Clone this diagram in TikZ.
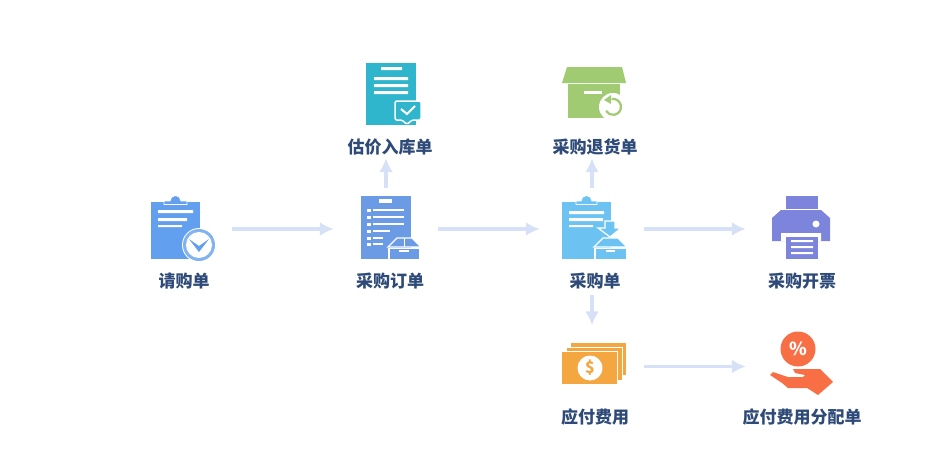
\documentclass[tikz,border=0pt]{standalone}
\usepackage{fontspec}
\usepackage{tikz}
\usetikzlibrary{arrows.meta}
\setmainfont{Noto Sans CJK SC}
\definecolor{flowblue}{HTML}{D6E0F6}
\definecolor{textblue}{HTML}{2E4A78}
\definecolor{reqblue}{HTML}{629FEE}
\definecolor{ordblue}{HTML}{6C9BE6}
\definecolor{rkblue}{HTML}{6CC3F2}
\definecolor{gjteal}{HTML}{2FB5CC}
\definecolor{thgreen}{HTML}{A0CB72}
\definecolor{kpviolet}{HTML}{7C84DC}
\definecolor{fyorange}{HTML}{F4A640}
\definecolor{fpred}{HTML}{F96F45}
\tikzset{
  spot/.style={minimum width=104pt,minimum height=82pt,inner sep=0pt},
  nametag/.style={font=\fontsize{17}{17}\selectfont\bfseries,text=textblue,minimum height=28pt,inner sep=0pt},
  flow/.style={draw=flowblue,line width=3.5pt,-{Latex[length=14pt,width=14pt]}},
}
\begin{document}
\begin{tikzpicture}[x=1pt,y=-1pt]
  \useasboundingbox (0,0) rectangle (948,474);
  % spots the arrows run between
  \node[spot] (qg) at (180,229) {};
  \node[spot] (cg) at (386,229) {};
  \node[spot] (rk) at (592,229) {};
  \node[spot] (kp) at (798,229) {};
  \node[spot] (gj) at (386,117) {};
  \node[spot] (th) at (592,117) {};
  \node[spot] (fy) at (592,366.5) {};
  \node[spot] (fp) at (798,366.5) {};
  \node[nametag] (qgt) at (184,281) {请购单};
  \node[nametag] (cgt) at (390,281) {采购订单};
  \node[nametag] (rkt) at (595,281) {采购单};
  \node[nametag] (kpt) at (802,281) {采购开票};
  \node[nametag] (gjt) at (390,147) {估价入库单};
  \node[nametag] (tht) at (595,147) {采购退货单};
  \node[nametag] (fyt) at (595,417) {应付费用};
  \node[nametag] (fpt) at (802,417) {应付费用分配单};
  \draw[flow] (qg) to (cg);
  \draw[flow] (cg) to (rk);
  \draw[flow] (rk) to (kp);
  \draw[flow] (fy) to (fp);
  \draw[flow] (cg.north) to (gj.south);
  \draw[flow] (rk.north) to (th.south);
  \draw[flow] (rk |- rkt.south) to (fy.north);
  % request form
  \fill[reqblue] (151,202) rectangle (200,259);
  \fill[reqblue,draw=white,line width=.8pt] (164,204.5) -- (164,201) -- (170,201) arc (180:360:5.5) -- (187,201) -- (187,204.5) -- cycle;
  \fill[white] (158,210) rectangle (193,213) (158,218) rectangle (187,221) (158,225) rectangle (182,227);
  \fill[white] (199,245) circle (17);
  \fill[reqblue!80] (199,245) circle (16);
  \fill[white] (199,245) circle (13);
  \fill[reqblue] (189,239) -- (199,246) -- (209,239) -- (199,252) -- cycle;
  % purchase order
  \fill[ordblue] (361,196) rectangle (411,259);
  \fill[white] (379,199) rectangle (392,203);
  \foreach \y/\e in {210/404,217/404,224/404,231/390,238/383,244/383} {
    \fill[white] (367,\y-1.5) rectangle (371,\y+1.5);
    \fill[white] (373,\y-1) rectangle (\e,\y+1);
  }
  \fill[ordblue,draw=white,line width=1.2pt] (388,247) -- (397,238) -- (412,238) -- (421,247) -- cycle;
  \fill[ordblue,draw=white,line width=1.2pt] (389,248.5) rectangle (420,259.5);
  \draw[white,line width=1pt] (404,238) -- (404,247);
  \fill[white] (399,250) rectangle (409,252);
  % estimate form
  \fill[gjteal] (366,63) rectangle (416,125);
  \fill[white] (381,67) rectangle (402,70) (374,77) rectangle (408,80) (374,84) rectangle (408,87) (374,91) rectangle (408,94);
  \fill[gjteal,draw=white,line width=1.5pt,rounded corners=1.5pt] (395,101) -- (421,101) -- (421,120) -- (412,120) -- (407,124.5) -- (402,120) -- (395,120) -- cycle;
  \draw[white,line width=2pt] (401,109) -- (407,114) -- (415,106);
  % return box
  \fill[thgreen] (567,67) -- (622,67) -- (626,83) -- (562,83) -- cycle;
  \fill[thgreen] (568,84) rectangle (620,118);
  \fill[white] (584,91) rectangle (602,94);
  \fill[white] (613,107) circle (14);
  \draw[thgreen,line width=2.2pt] (611.6,99) arc (-100:150:8);
  \fill[thgreen] (604,100) -- (611,95) -- (611,104) -- cycle;
  % receipt
  \fill[rkblue] (562,202) rectangle (611,259);
  \fill[rkblue,draw=white,line width=.8pt] (576,204.5) -- (576,201) -- (581,201) arc (180:360:5.5) -- (597,201) -- (597,204.5) -- cycle;
  \fill[white] (569,211) rectangle (604,214) (569,218) rectangle (603,221) (569,225) rectangle (593,227);
  \fill[rkblue,draw=white,line width=1.2pt] (605,221) -- (615,221) -- (615,228) -- (621,228) -- (610,237) -- (598,228) -- (605,228) -- cycle;
  \fill[rkblue,draw=white,line width=1.2pt] (594,247) -- (603,238) -- (618,238) -- (627,247) -- cycle;
  \fill[rkblue,draw=white,line width=1.2pt] (595,248.5) rectangle (627,259.5);
  \fill[white] (606,250) rectangle (615,252);
  % printer
  \fill[kpviolet] (786,196) rectangle (818,209);
  \fill[kpviolet] (772,218) -- (781,210) -- (821,210) -- (830,218) -- (830,241) -- (772,241) -- cycle;
  \fill[white] (781,233) rectangle (821,237);
  \fill[white] (781,233) rectangle (786,241) (816,233) rectangle (821,241);
  \fill[kpviolet] (786,237) rectangle (818,259);
  \fill[white] (791,240) rectangle (813,242) (791,246) rectangle (813,248) (791,252) rectangle (813,254);
  \fill[white] (816,224) circle (3.5);
  % money
  \fill[fyorange] (571,343) rectangle (626,375);
  \fill[white] (567,347) rectangle (623,381);
  \fill[fyorange] (567,348) rectangle (622,380);
  \fill[white] (562,351) rectangle (618,384);
  \fill[fyorange] (562,352) rectangle (617,384);
  \fill[white] (590,368) circle (12.5);
  \node[font=\fontsize{16}{16}\selectfont\bfseries,text=fyorange,inner sep=0pt] (dollar) at (590,368) {\$};
  % expense split
  \fill[fpred] (798,349) circle (17.5);
  \node[font=\fontsize{18}{18}\selectfont\bfseries,text=white,inner sep=0pt] (pct) at (798,349) {\%};
  \fill[fpred] (793,369) -- (820,369) -- (833,382) -- (818,395) -- (807,388) -- (788,388) -- (782,383) -- (770,375) -- (773,372) -- (788,377) -- (803,377) -- (805,375) -- (795,373) -- cycle;
\end{tikzpicture}
\end{document}
